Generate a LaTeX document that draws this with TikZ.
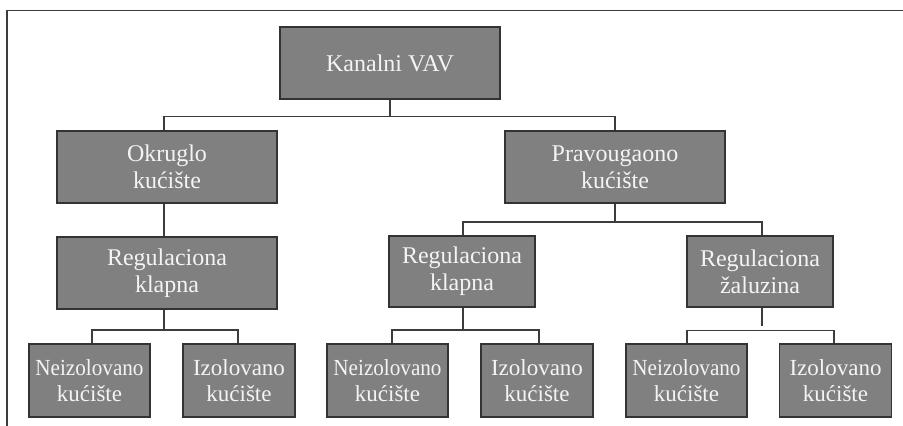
\documentclass[tikz,border=0pt]{standalone}
\usepackage{fontspec}
\usepackage{graphicx}
\setmainfont{Liberation Serif}
\definecolor{boxfill}{HTML}{808080}
\definecolor{boxline}{HTML}{333333}
\definecolor{boxtext}{HTML}{F4F4F4}
\definecolor{connline}{HTML}{3C3C3C}
\begin{document}
\begin{tikzpicture}[x=1pt,y=-1pt,
  box/.style={draw=boxline, fill=boxfill, line width=1.6pt, text=boxtext,
    align=center, inner sep=0pt, font=\fontsize{24}{27}\selectfont},
  bigbox/.style={box, minimum width=220pt, minimum height=72pt},
  midbox/.style={box, minimum width=146pt, minimum height=71pt},
  leafbox/.style={box, minimum height=73pt, font=\fontsize{23}{26.5}\selectfont},
  nbox/.style={leafbox, minimum width=121pt},
  ibox/.style={leafbox, minimum width=112pt},
  conn/.style={draw=connline, line width=1.4pt},
  frameline/.style={draw=connline, line width=1.8pt}]
\useasboundingbox (0,0) rectangle (903,426);
\coordinate (fa) at (7,426);
\coordinate (fb) at (7,10.5);
\coordinate (fc) at (903,10.5);
\draw[frameline] (fa) -- (fb) -- (fc);

\node[bigbox] (top) at (390,63) {Kanalni VAV};
\node[bigbox] (okr) at (167,167) {Okruglo\\kućište};
\node[bigbox] (prav) at (615,167) {Pravougaono\\kućište};
\node[bigbox] (rk1) at (167,273) {Regulaciona\\klapna};
\node[midbox] (rk2) at (462,271.5) {Regulaciona\\klapna};
\node[midbox] (zal) at (760,271.5) {Regulaciona\\žaluzina};

\node[nbox] (n1) at (89.5,380.5) {\scalebox{0.92}[1]{Neizolovano}\\kućište};
\node[ibox] (i1) at (239,380.5) {Izolovano\\kućište};
\node[nbox] (n2) at (387.5,380.5) {\scalebox{0.92}[1]{Neizolovano}\\kućište};
\node[ibox] (i2) at (537,380.5) {Izolovano\\kućište};
\node[nbox] (n3) at (686.5,380.5) {\scalebox{0.92}[1]{Neizolovano}\\kućište};
\node[ibox] (i3) at (835.5,380.5) {Izolovano\\kućište};

% level 1
\draw[conn] (top.south) -- (390,116.5) -| ([xshift=-3pt]okr.north);
\draw[conn] (390,116.5) -| (prav.north);
% left branch
\draw[conn] ([xshift=-3pt]okr.south) -- ([xshift=-3pt]rk1.north);
\draw[conn] ([xshift=-3pt]rk1.south) -- (164,330) -| ([xshift=2.5pt]n1.north);
\draw[conn] (164,330) -| ([xshift=-1pt]i1.north);
% right branch
\draw[conn] (prav.south) -- (615,222) -| ([xshift=1pt]rk2.north);
\draw[conn] (615,222) -| ([xshift=2pt]zal.north);
\draw[conn] ([xshift=1pt]rk2.south) -- (463,330) -| ([xshift=4.5pt]n2.north);
\draw[conn] (463,330) -| ([xshift=2pt]i2.north);
\coordinate (zgap) at (762,326);
\draw[conn] ([xshift=2pt]zal.south) -- (zgap);
\coordinate (zbar) at (760,330.5);
\draw[conn] (zbar) -| ([xshift=0.5pt]n3.north);
\draw[conn] (zbar) -| ([xshift=-1.5pt]i3.north);
\end{tikzpicture}
\end{document}
